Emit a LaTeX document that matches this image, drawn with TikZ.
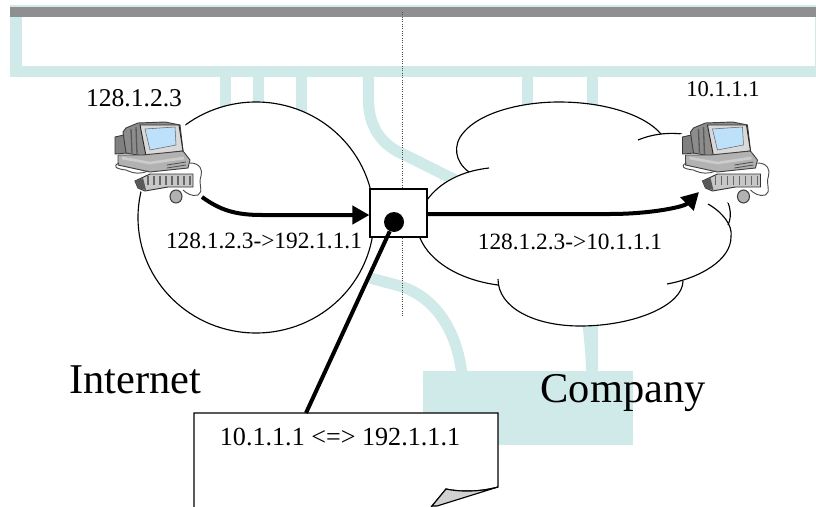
\documentclass[tikz,border=0pt]{standalone}
\usepackage{fontspec}
\setmainfont{Liberation Serif}
\usetikzlibrary{arrows.meta}
\definecolor{wirecolor}{HTML}{D0EAE9}
\definecolor{barcolor}{HTML}{8F8F8F}
\definecolor{screencolor}{HTML}{BDE0FB}
\tikzset{
	wire/.style={draw=wirecolor, line width=8.4pt},
	outline/.style={draw=black, line width=0.85pt},
	flowline/.style={draw=black, line width=3pt, -{Triangle[length=12.75pt,width=13.5pt]}},
	smalllabel/.style={anchor=base, inner sep=0pt, font=\fontsize{17.5}{20}\selectfont},
	iplabel/.style={anchor=base, inner sep=0pt, font=\fontsize{19.2}{22}\selectfont},
	biglabel/.style={anchor=base, inner sep=0pt, font=\fontsize{31.8}{36}\selectfont}
}
\newcommand{\workstation}{\fill[white] (112,135) -- (135,122) -- (185,122) -- (190,155) -- (204,168) -- (205,195) -- (186,205) -- (165,205) -- (143,193) -- (113,170) -- cycle;
					\draw[black!80, line width=0.6pt, fill=black!50] (115,137) -- (128,134) -- (128,153) -- (115,154) -- cycle;
					\draw[black!75, line width=0.7pt, fill=black!45] (123,132) -- (126,128) -- (138,123) -- (165,122) -- (180,125) -- (183,151) -- (143,156) -- (126,153) -- cycle;
					\draw[black!65, line width=1pt] (131,129) -- (132,153) (136,127) -- (137,154);
					\draw[black!85, line width=0.7pt, fill=black!15] (140,125) -- (179,125) -- (183,151) -- (146,156) -- cycle;
					\draw[black!60, line width=0.4pt, fill=screencolor] (145,129) -- (175,127) -- (176,145) -- (150,150) -- cycle;
					\draw[black!75, line width=0.7pt, fill=black!30] (118,155) -- (143,155) -- (183,151) -- (190,160) -- (188,168) -- (150,172) -- (118,165) -- cycle;
					\draw[black!20, line width=2pt] (122,158) -- (150,163) -- (184,158);
					\draw[black!70, line width=0.6pt] (167,165) -- (186,162) (167,168) -- (186,165);
					\draw[black!70, line width=0.7pt] (190,163) .. controls (200,163) and (203,170) .. (201,176) .. controls (198,184) and (204,192) .. (198,195) .. controls (192,197) and (186,193) .. (183,190);
					\draw[black!70, line width=0.7pt] (119,163) .. controls (112,166) and (116,169) .. (126,170) .. controls (134,174) and (142,174) .. (148,171);
					\draw[black!80, line width=0.7pt, fill=black!22] (135,181) -- (150,174) -- (193,174) -- (193,187) -- (168,187) -- (145,191) -- (138,188) -- cycle;
					\fill[black!65] (135,181) -- (143,178) -- (146,190) -- (138,188) -- cycle;
					\foreach \keyx in {148,154,...,190}
						\draw[black!60, line width=1.4pt] (\keyx,176) -- (\keyx,185);
					\draw[black!75, line width=0.8pt, fill=black!30] (176,196.5) ellipse (6 and 6.5);}
\begin{document}
\begin{tikzpicture}[x=0.75pt, y=-0.75pt]

				\useasboundingbox (0,0) rectangle (816,506);
				\clip (0,0) rectangle (816,506);

					\draw[wire] (16,10.5) rectangle (821,71.5);
					\fill[barcolor] (10,7) rectangle (816,17);

					\foreach \stubx in {225.5,258.5,301.5,527.5,592.5}
						\draw[wire] (\stubx,71.5) -- (\stubx,125);

					\draw[wire] (368.5,71.5) -- (368.5,100) .. controls (368.5,130) and (385,147) .. (405,155) -- (455,180);
					\draw[wire] (370,278) -- (400,286) .. controls (435,297) and (457,330) .. (462,375);
					\fill[wirecolor] (582,320) .. controls (584,340) and (586,355) .. (586,375) -- (598,375) -- (598,320) -- cycle;
					\fill[wirecolor] (423,371) rectangle (633,445);

					\draw[black!70, line width=0.75pt, densely dotted] (402,12) -- (402,316);

					\draw[outline, fill=white] (256,217.5) ellipse (118 and 115.5);

					\fill[white] (427,200) .. controls (440,182) and (455,175) .. (469,172) .. controls (455,162) and (452,145) .. (464,132) .. controls (480,113) and (520,102) .. (559,102) .. controls (605,102) and (645,115) .. (661,134) -- (690,135) -- (718,190) .. controls (730,198) and (733,215) .. (731,237) .. controls (731,260) and (700,278) .. (683,281) .. controls (683,305) and (635,326) .. (580,326) .. controls (535,326) and (498,308) .. (498,285) .. controls (460,280) and (430,262) .. (420,238) -- cycle;
					\draw[outline] (427,200) .. controls (440,182) and (462,171) .. (489,168);
					\draw[outline] (469,172) .. controls (455,162) and (452,145) .. (464,132) .. controls (480,113) and (520,102) .. (559,102) .. controls (605,102) and (645,115) .. (661,134);
					\draw[outline] (638,140) .. controls (655,133) and (672,132) .. (690,135);
					\draw[outline] (718,190) .. controls (730,198) and (733,215) .. (728,225);
					\draw[outline] (708,204) .. controls (722,212) and (733,225) .. (731,237) .. controls (731,260) and (700,278) .. (667,284);
					\draw[outline] (683,281) .. controls (683,305) and (635,326) .. (580,326) .. controls (535,326) and (498,308) .. (498,279);
					\draw[outline] (498,285) .. controls (460,280) and (430,262) .. (420,238);

					\workstation

					\begin{scope}[xshift = 425.6pt]
						\workstation
					\end{scope}

					\node[iplabel] (hostleft) at (134,107) {128.1.2.3};
					\node[anchor=base, inner sep=0pt, font=\fontsize{16.9}{20}\selectfont] (hostright) at (723,97) {10.1.1.1};

					\node[draw, line width=0.85pt, fill=white, minimum width=42.75pt, minimum height=36pt, inner sep=0pt] (nat) at (398.5,213) {};
					\node[circle, fill=black, minimum size=15pt, inner sep=0pt] (natdot) at (394,222) {};

					\coordinate (pcleft) at (202,197);
					\coordinate (pcright) at (699,192);
					\coordinate (notetop) at (306,413);

					\draw[flowline] (pcleft) .. controls (220,210) and (235,215) .. (262,215) -- (nat.184);
					\draw[flowline] (nat.-2) -- (610,214) .. controls (650,214) and (684,207) .. (pcright);

					\node[smalllabel] (flowleft) at (264,248) {128.1.2.3->192.1.1.1};
					\node[smalllabel] (flowright) at (570,249) {128.1.2.3->10.1.1.1};

					\node[biglabel] (internet) at (135,393) {Internet};
					\node[biglabel] (company) at (623,402) {Company};

					\draw[outline, fill=white] (194,515) -- (194,413) -- (498,413) -- (498,487) .. controls (480,492) and (460,492) .. (446,489) -- (432,506) -- (425,515) -- cycle;
					\draw[outline, fill=black!18] (446,489) .. controls (460,492) and (480,492) .. (498,487) -- (437,506) -- (432,506) -- cycle;
					\node[anchor=base, inner sep=0pt, font=\fontsize{19.6}{23}\selectfont] (notetext) at (340,445) {10.1.1.1 <=> 192.1.1.1};

					\draw[line width=3pt] (natdot) -- (notetop);

				\end{tikzpicture}
\end{document}
